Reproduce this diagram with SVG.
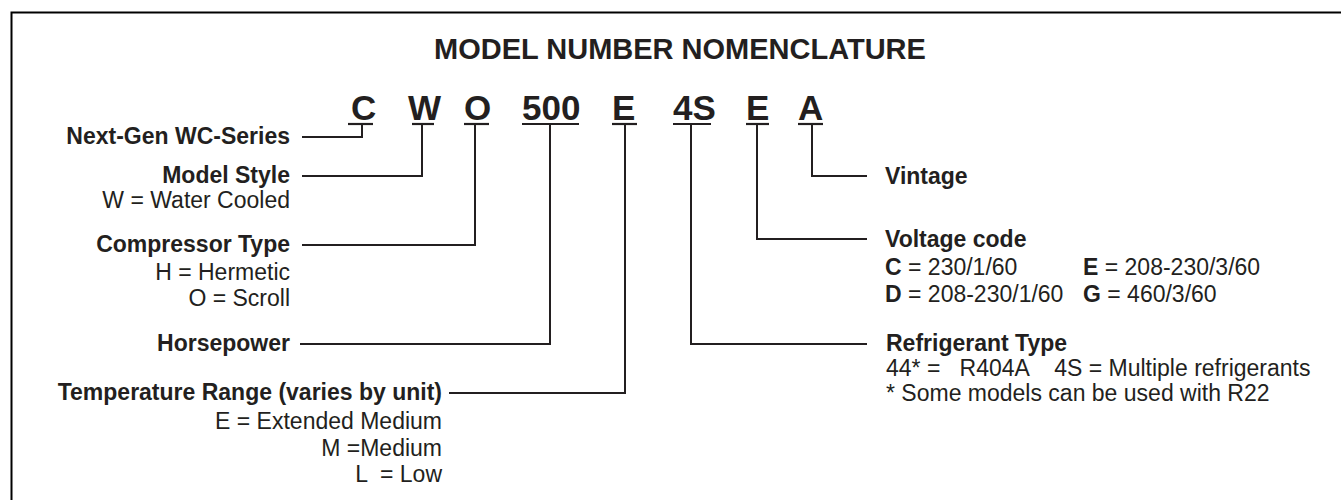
<svg xmlns="http://www.w3.org/2000/svg" width="1341" height="500" viewBox="0 0 1341 500">
<style>
text{font-family:"Liberation Sans",Arial,sans-serif;fill:#231f20;font-size:23px}
.b{font-weight:bold}
.title{font-size:29px;font-weight:bold}
.code{font-size:35px;font-weight:bold}
.r{text-anchor:end}
.ln{stroke:#231f20;stroke-width:2;fill:none}
.ul{stroke:#231f20;stroke-width:2.2}
</style>
<rect x="11.5" y="12.5" width="1345" height="500" fill="none" stroke="#000" stroke-width="2"/>
<text class="title" x="434" y="59">MODEL NUMBER NOMENCLATURE</text>
<g id="code">
<text class="code" x="351" y="120">C</text>
<text class="code" x="408" y="120">W</text>
<text class="code" x="464" y="120">O</text>
<text class="code" x="522" y="120">500</text>
<text class="code" x="612" y="120">E</text>
<text class="code" x="673" y="120">4S</text>
<text class="code" x="746" y="120">E</text>
<text class="code" x="798" y="120">A</text>
<line class="ul" x1="348" y1="124" x2="373" y2="124"/>
<line class="ul" x1="412" y1="124" x2="434" y2="124"/>
<line class="ul" x1="464" y1="124" x2="489" y2="124"/>
<line class="ul" x1="522" y1="124" x2="579" y2="124"/>
<line class="ul" x1="612" y1="124" x2="637" y2="124"/>
<line class="ul" x1="673" y1="124" x2="711" y2="124"/>
<line class="ul" x1="746" y1="124" x2="769" y2="124"/>
<line class="ul" x1="798" y1="124" x2="823" y2="124"/>
</g>
<g id="connectors">
<polyline class="ln" points="302,137 362,137 362,124"/>
<polyline class="ln" points="302,176 422,176 422,124"/>
<polyline class="ln" points="302,245 475,245 475,124"/>
<polyline class="ln" points="300,344 550,344 550,124"/>
<polyline class="ln" points="449,393 625,393 625,124"/>
<polyline class="ln" points="867,344 691,344 691,124"/>
<polyline class="ln" points="867,239 757,239 757,124"/>
<polyline class="ln" points="867,176 812,176 812,124"/>
</g>
<g id="series">
<text class="b r" x="290" y="144">Next-Gen WC-Series</text>
</g>
<g id="model-style">
<text class="b r" x="290" y="183">Model Style</text>
<text class="r" x="290" y="208">W = Water Cooled</text>
</g>
<g id="compressor">
<text class="b r" x="290" y="252">Compressor Type</text>
<text class="r" x="290" y="280">H = Hermetic</text>
<text class="r" x="290" y="306">O = Scroll</text>
</g>
<g id="horsepower">
<text class="b r" x="290" y="351">Horsepower</text>
</g>
<g id="temperature">
<text class="b r" x="442" y="400">Temperature Range (varies by unit)</text>
<text class="r" x="442" y="429">E = Extended Medium</text>
<text class="r" x="442" y="456">M =Medium</text>
<text class="r" x="442" y="482" xml:space="preserve">L  = Low</text>
</g>
<g id="vintage">
<text class="b" x="885" y="184">Vintage</text>
</g>
<g id="voltage">
<text class="b" x="885" y="247">Voltage code</text>
<text x="885" y="275"><tspan class="b">C</tspan> = 230/1/60</text>
<text x="1083" y="275"><tspan class="b">E</tspan> = 208-230/3/60</text>
<text x="885" y="302"><tspan class="b">D</tspan> = 208-230/1/60</text>
<text x="1083" y="302"><tspan class="b">G</tspan> = 460/3/60</text>
</g>
<g id="refrigerant">
<text class="b" x="886" y="351">Refrigerant Type</text>
<text x="886" y="376" xml:space="preserve">44* =   R404A    4S = Multiple refrigerants</text>
<text x="886" y="401">* Some models can be used with R22</text>
</g>
</svg>
